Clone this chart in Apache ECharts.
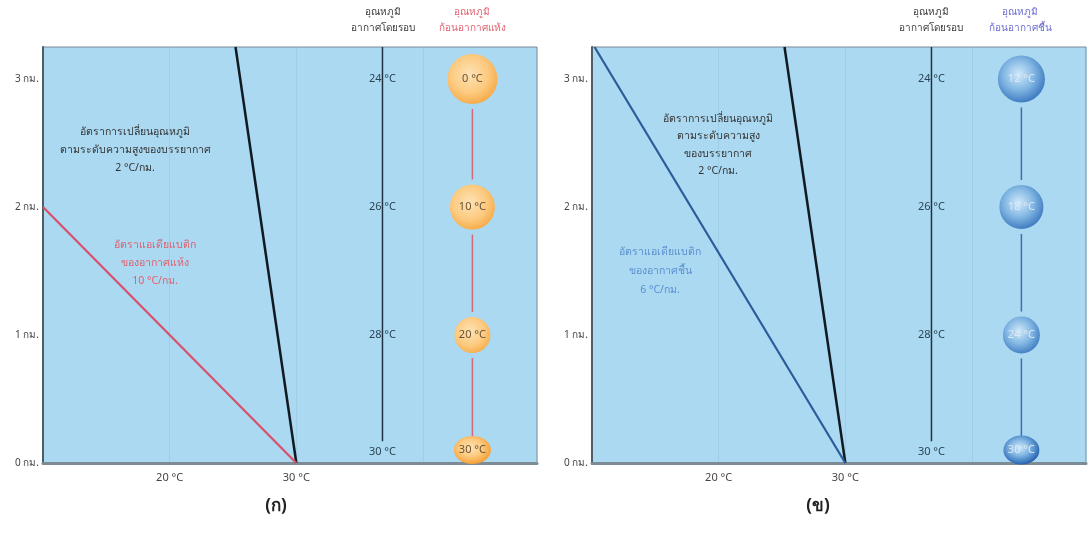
<!DOCTYPE html>
<html>
<head>
<meta charset="utf-8">
<script src="https://cdn.jsdelivr.net/npm/echarts@6/dist/echarts.min.js"></script>
<style>
html,body{margin:0;padding:0;background:#ffffff;}
#chart{width:1089px;height:535px;}
</style>
</head>
<body>
<div id="chart"></div>
<script>
// ---------- DATA ----------
const xTickLabels = [20, 30];                 // °C ticks shown on x axes
const heightTicks = [0, 1, 2, 3];             // km ticks
const columnHeights = [3, 2, 1, 0];           // km levels of the columns
const ambientTemps = [24, 26, 28, 30];        // ambient air temperature (°C)
const dryParcelTemps = [0, 10, 20, 30];       // dry parcel temperature (°C)
const moistParcelTemps = [12, 18, 24, 30];    // moist parcel temperature (°C)
const envLapseLine = [[30, 0], [25.2, 3.25]]; // environmental lapse rate line (°C, km)
const dryAdiabatLine = [[30, 0], [10, 2]];    // dry adiabatic line
const moistAdiabatLine = [[30, 0], [10.2, 3.25]]; // moist adiabatic line

// ---------- LAYOUT / STYLE ----------
const X_MIN = 10, X_MAX = 49, Y_MIN = 0, Y_MAX = 3.25;
const AMB_X = 36.8, PAR_X = 43.9;   // column positions in axis units
const AMB_LINE_BOTTOM = 0.17;
const drySizes = [55, 50, 41, [37, 28]];
const moistSizes = [52, 49, 42, [36, 29]];
const BG = '#abd9f1';
const FONT = '"Noto Sans", "Liberation Sans", sans-serif';

const chart = echarts.init(document.getElementById('chart'));

function xAxisCfg(gi) {
  return {
    type: 'value', gridIndex: gi, min: X_MIN, max: X_MAX, interval: 10,
    axisLine: { show: true, lineStyle: { color: '#7d8b95', width: 3 } },
    axisTick: { show: false },
    axisLabel: {
      color: '#444', fontSize: 11, fontFamily: FONT, margin: 9,
      formatter: v => xTickLabels.indexOf(v) >= 0 ? v + ' °C' : ''
    },
    splitLine: { show: true, lineStyle: { color: 'rgba(150,195,220,0.55)', width: 1 } }
  };
}
function yAxisCfg(gi) {
  return {
    type: 'value', gridIndex: gi, min: Y_MIN, max: Y_MAX, interval: 1,
    axisLine: { show: true, lineStyle: { color: '#4f5d66', width: 2 } },
    axisTick: { show: false },
    axisLabel: {
      color: '#444', fontSize: 10, fontFamily: FONT, margin: 4,
      showMaxLabel: false,
      formatter: v => heightTicks.indexOf(v) >= 0 ? v + ' กม.' : ''
    },
    splitLine: { show: false }
  };
}

function radial(stops) {
  return new echarts.graphic.RadialGradient(0.45, 0.42, 0.62,
    stops.map(s => ({ offset: s[0], color: s[1] })));
}

function panelSeries(gi, parcelTemps, sizes, adiabat, adiabatColor, connColor, grad, circleText) {
  const s = [];
  s.push({ type: 'line', xAxisIndex: gi, yAxisIndex: gi, data: envLapseLine, symbol: 'none',
    lineStyle: { color: '#111a22', width: 2.5 }, z: 3, silent: true });
  s.push({ type: 'line', xAxisIndex: gi, yAxisIndex: gi, data: adiabat, symbol: 'none',
    lineStyle: { color: adiabatColor, width: 2.2 }, z: 3, silent: true });
  s.push({ type: 'line', xAxisIndex: gi, yAxisIndex: gi,
    data: [[AMB_X, Y_MAX], [AMB_X, AMB_LINE_BOTTOM]], symbol: 'none',
    lineStyle: { color: '#1f3140', width: 1.5 }, z: 2, silent: true });
  s.push({ type: 'scatter', xAxisIndex: gi, yAxisIndex: gi,
    data: columnHeights.map((h) => ({
      value: [AMB_X, h],
      label: { offset: h === 0 ? [0, -11] : [0, 0] }
    })),
    symbol: 'rect', symbolSize: [2, 2], itemStyle: { color: 'transparent', opacity: 1 },
    label: { show: true, position: 'inside', color: '#2c4556', fontSize: 11, fontFamily: FONT,
      formatter: p => ambientTemps[p.dataIndex] + ' °C' },
    z: 4, silent: true });
  s.push({ type: 'line', xAxisIndex: gi, yAxisIndex: gi,
    data: [[PAR_X, columnHeights[0]], [PAR_X, columnHeights[columnHeights.length - 1]]], symbol: 'none',
    lineStyle: { color: connColor, width: 1.5 }, z: 2, silent: true });
  s.push({ type: 'scatter', xAxisIndex: gi, yAxisIndex: gi,
    data: columnHeights.map((h, i) => ({
      value: [PAR_X, h],
      symbolSize: sizes[i],
      symbolOffset: h === 0 ? [0, -13] : [0, 0],
      itemStyle: h === 0 ? { borderWidth: 0 } : {}
    })),
    symbol: 'circle',
    itemStyle: { color: grad, borderColor: BG, borderWidth: 5, opacity: 1 },
    label: { show: true, position: 'inside', color: circleText, fontSize: 11, fontFamily: FONT,
      formatter: p => parcelTemps[p.dataIndex] + ' °C' },
    z: 5, silent: true });
  return s;
}

const orange = radial([[0, '#fde3b5'], [0.5, '#fcca80'], [0.82, '#f7ab48'], [1, '#f29a2e']]);
const blue = radial([[0, '#d0eafa'], [0.45, '#80b5e2'], [0.82, '#3b78bf'], [1, '#1f5498']]);

function txt(x, y, text, color, size, weight, lh) {
  return { type: 'text', x: x, y: y, style: {
    text: text, fill: color, font: (weight || 'normal') + ' ' + size + 'px ' + FONT,
    align: 'center', verticalAlign: 'middle', lineHeight: lh || size + 6 } };
}

const option = {
  backgroundColor: '#ffffff',
  animation: false,
  grid: [
    { left: 43, top: 47, width: 494, height: 416, show: true, backgroundColor: BG, borderColor: '#7a8a95', borderWidth: 1 },
    { left: 592, top: 47, width: 494, height: 416, show: true, backgroundColor: BG, borderColor: '#7a8a95', borderWidth: 1 }
  ],
  xAxis: [xAxisCfg(0), xAxisCfg(1)],
  yAxis: [yAxisCfg(0), yAxisCfg(1)],
  series: [].concat(
    panelSeries(0, dryParcelTemps, drySizes, dryAdiabatLine, '#d9506a', '#d26a7a', orange, '#6b5235'),
    panelSeries(1, moistParcelTemps, moistSizes, moistAdiabatLine, '#2b5b9a', '#3d6fa8', blue, '#dce9f3')
  ),
  graphic: [
    txt(383, 20, 'อุณหภูมิ\nอากาศโดยรอบ', '#3a3a3a', 10, 'normal', 16),
    txt(472, 20, 'อุณหภูมิ\nก้อนอากาศแห้ง', '#e0606e', 10, 'normal', 16),
    txt(931, 20, 'อุณหภูมิ\nอากาศโดยรอบ', '#3a3a3a', 10, 'normal', 16),
    txt(1020, 20, 'อุณหภูมิ\nก้อนอากาศชื้น', '#6a6ad0', 10, 'normal', 16),
    txt(135, 150, 'อัตราการเปลี่ยนอุณหภูมิ\nตามระดับความสูงของบรรยากาศ\n2 °C/กม.', '#333', 10.5, 'normal', 18),
    txt(155, 263, 'อัตราแอเดียแบติก\nของอากาศแห้ง\n10 °C/กม.', '#e0606e', 10.5, 'normal', 18),
    txt(718, 145, 'อัตราการเปลี่ยนอุณหภูมิ\nตามระดับความสูง\nของบรรยากาศ\n2 °C/กม.', '#333', 10.5, 'normal', 17.5),
    txt(660, 271, 'อัตราแอเดียแบติก\nของอากาศชื้น\n6 °C/กม.', '#5b8fd0', 10.5, 'normal', 19),
    txt(276, 506, '(ก)', '#222', 17, 'bold'),
    txt(818, 506, '(ข)', '#222', 17, 'bold')
  ]
};
chart.setOption(option);
</script>
</body>
</html>
